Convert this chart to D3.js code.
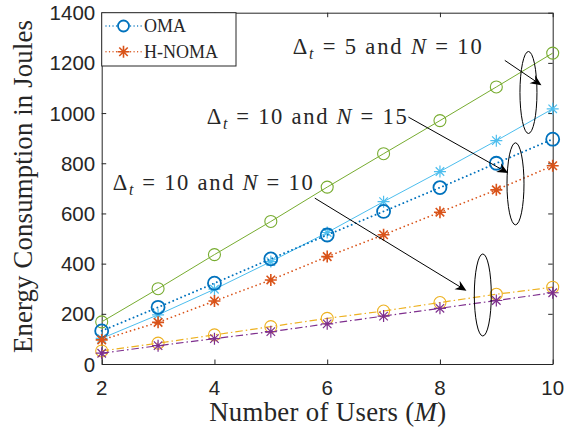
<!DOCTYPE html>
<html>
<head>
<meta charset="utf-8">
<script src="https://cdn.jsdelivr.net/npm/d3@7"></script>
<style>
  body { margin: 0; background: #fff; }
  svg { display: block; }
  .tick-label { font-family: "Liberation Sans", Arial, sans-serif; font-size: 20.5px; fill: #262626; }
</style>
</head>
<body>
<div id="chart"></div>
<script>
// number of users M
const users = [2, 3, 4, 5, 6, 7, 8, 9, 10];

// energy consumption (J)
const omaD5N10 = [168, 300, 436, 568, 705, 838, 970, 1104, 1239];
const hnomaD5N10 = [102, 196, 298, 408, 524, 647, 767, 890, 1017];
const omaD10N15 = [132, 226, 322, 419, 514, 608, 703, 800, 896];
const hnomaD10N15 = [96, 166, 251, 335, 428, 515, 605, 694, 790];
const omaD10N10 = [52, 83, 116, 149, 182, 211, 245, 278, 306];
const hnomaD10N10 = [43, 73, 101, 129, 160, 191, 222, 253, 284];

const xTicks = [2, 4, 6, 8, 10];
const yTicks = [0, 200, 400, 600, 800, 1000, 1200, 1400];

const dotted = { dash: "0.01,4.3", cap: "round" };
const dashDot = { dash: "7.5,3,1.5,3", cap: "butt" };

const series = [
  { name: "omaD5N10", values: omaD5N10, color: "#77AC30", style: null, marker: "circle", width: 1 },
  { name: "hnomaD5N10", values: hnomaD5N10, color: "#4DBEEE", style: null, marker: "star", width: 1 },
  { name: "omaD10N15", values: omaD10N15, color: "#0072BD", style: dotted, marker: "circle", width: 1.9, mw: 1.8, r: 6.5 },
  { name: "hnomaD10N15", values: hnomaD10N15, color: "#D95319", style: dotted, marker: "star", width: 1.7, mw: 1.6 },
  { name: "omaD10N10", values: omaD10N10, color: "#EDB120", style: dashDot, marker: "circle", width: 1.2 },
  { name: "hnomaD10N10", values: hnomaD10N10, color: "#7E2F8E", style: dashDot, marker: "star", width: 1.2 },
];

// annotations: label, text box, arrow (data coords), ellipse (data coords)
const notes = [
  { parts: ["5", "10"], x0: 292.7, base: 54, w: 189,
    from: [9.15, 1210], to: [9.80, 1111], ell: [9.57, 1082] },
  { parts: ["10", "15"], x0: 206.7, base: 124, w: 200,
    from: [7.44, 984], to: [9.21, 761], ell: [9.34, 718] },
  { parts: ["10", "10"], x0: 112.7, base: 190, w: 200,
    from: [5.78, 661], to: [8.47, 292], ell: [8.76, 275] },
];

const width = 573;
const height = 427;
const margin = { top: 12.7, right: 20.3, bottom: 63, left: 101.7 };
const serifFont = '"Liberation Serif", "Times New Roman", Times, serif';

const x = d3.scaleLinear().domain([2, 10]).range([margin.left, width - margin.right]);
const y = d3.scaleLinear().domain([0, 1400]).range([height - margin.bottom, margin.top]);

const svg = d3.select("#chart").append("svg")
  .attr("width", width)
  .attr("height", height);

function serifText(parent) {
  return parent.append("text")
    .style("font-family", serifFont)
    .attr("fill", "#262626");
}

// bring serif text to the measured width: grow the size a little, then letter spacing
function fitWidth(text, target, maxGrow = 1.07) {
  const size = +text.attr("font-size");
  let w = text.node().getComputedTextLength();
  const grow = Math.min(maxGrow, target / w);
  text.attr("font-size", size * grow);
  text.selectAll("tspan.sub").attr("font-size", function () {
    return +d3.select(this).attr("font-size") * grow;
  });
  w = text.node().getComputedTextLength();
  const n = text.text().length;
  text.attr("letter-spacing", (target - w) / Math.max(1, n - 1));
}

const axisColor = "#262626";
const tickLen = 4.5;

// axes box with inward ticks on all sides
const axesG = svg.append("g");
axesG.append("g")
  .attr("transform", `translate(0,${y(0)})`)
  .call(d3.axisBottom(x).tickValues(xTicks).tickSize(-tickLen).tickSizeOuter(0).tickFormat(""));
axesG.append("g")
  .attr("transform", `translate(0,${y(1400)})`)
  .call(d3.axisTop(x).tickValues(xTicks).tickSize(-tickLen).tickSizeOuter(0).tickFormat(""));
axesG.append("g")
  .attr("transform", `translate(${x(2)},0)`)
  .call(d3.axisLeft(y).tickValues(yTicks).tickSize(-tickLen).tickSizeOuter(0).tickFormat(""));
axesG.append("g")
  .attr("transform", `translate(${x(10)},0)`)
  .call(d3.axisRight(y).tickValues(yTicks).tickSize(-tickLen).tickSizeOuter(0).tickFormat(""));
axesG.selectAll("path.domain").attr("stroke", axisColor).attr("stroke-width", 1);
axesG.selectAll(".tick line").attr("stroke", axisColor).attr("stroke-width", 1);

svg.append("g").selectAll("text")
  .data(xTicks)
  .join("text")
  .attr("class", "tick-label")
  .attr("x", (d) => x(d))
  .attr("y", y(0) + 30.5)
  .attr("text-anchor", "middle")
  .text((d) => d);

svg.append("g").selectAll("text")
  .data(yTicks)
  .join("text")
  .attr("class", "tick-label")
  .attr("x", x(2) - 6.5)
  .attr("y", (d) => y(d) + 7.5)
  .attr("text-anchor", "end")
  .text((d) => d);

// axis titles
const xTitle = serifText(svg)
  .attr("font-size", 25)
  .attr("x", 327.8)
  .attr("y", 421)
  .attr("text-anchor", "middle");
xTitle.append("tspan").text("Number of Users (");
xTitle.append("tspan").attr("font-style", "italic").text("M");
xTitle.append("tspan").text(")");
fitWidth(xTitle, 237);

const yTitle = serifText(svg)
  .attr("font-size", 25)
  .attr("text-anchor", "middle")
  .attr("transform", `translate(32,186.5)rotate(-90)`)
  .text("Energy Consumption in Joules");
fitWidth(yTitle, 333);

// series
function drawMarker(g, d, s) {
  const cx = x(d[0]);
  const cy = y(d[1]);
  if (s.marker === "circle") {
    g.append("circle")
      .attr("cx", cx).attr("cy", cy).attr("r", s.r || 6)
      .attr("fill", "none")
      .attr("stroke", s.color)
      .attr("stroke-width", s.mw || 1.1);
  } else {
    const a = 6;
    const b = a * Math.SQRT1_2;
    g.append("path")
      .attr("d", `M${cx - a},${cy}H${cx + a}M${cx},${cy - a}V${cy + a}` +
        `M${cx - b},${cy - b}L${cx + b},${cy + b}M${cx - b},${cy + b}L${cx + b},${cy - b}`)
      .attr("fill", "none")
      .attr("stroke", s.color)
      .attr("stroke-width", s.mw || 1.2);
  }
}

const line = d3.line().x((d) => x(d[0])).y((d) => y(d[1]));

series.forEach((s) => {
  const pts = users.map((u, i) => [u, s.values[i]]);
  const g = svg.append("g").attr("class", s.name);
  g.append("path")
    .datum(pts)
    .attr("d", line)
    .attr("fill", "none")
    .attr("stroke", s.color)
    .attr("stroke-width", s.width)
    .attr("stroke-dasharray", s.style ? s.style.dash : null)
    .attr("stroke-linecap", s.style ? s.style.cap : "butt");
  pts.forEach((d) => drawMarker(g, d, s));
});

// annotations
const noteG = svg.append("g");
notes.forEach((n) => {
  const t = serifText(noteG)
    .attr("font-size", 21.5)
    .attr("x", n.x0)
    .attr("y", n.base);
  t.append("tspan").text("Δ");
  t.append("tspan").attr("class", "sub").attr("font-style", "italic").attr("font-size", 15).attr("dy", 5).text("t");
  t.append("tspan").attr("dy", -5).text(` = ${n.parts[0]} and `);
  t.append("tspan").attr("font-style", "italic").text("N");
  t.append("tspan").text(` = ${n.parts[1]}`);
  fitWidth(t, n.w, 1.05);

  noteG.append("ellipse")
    .attr("cx", x(n.ell[0]))
    .attr("cy", y(n.ell[1]))
    .attr("rx", 8.5)
    .attr("ry", 41)
    .attr("fill", "none")
    .attr("stroke", "#000")
    .attr("stroke-width", 1);

  const x1 = x(n.from[0]), y1 = y(n.from[1]);
  const x2 = x(n.to[0]), y2 = y(n.to[1]);
  const ang = Math.atan2(y2 - y1, x2 - x1);
  const hl = 11, hw = 5, notch = 7.5;
  const ux = Math.cos(ang), uy = Math.sin(ang);
  const px = -uy, py = ux;
  const bx = x2 - ux * hl, by = y2 - uy * hl;
  const nx = x2 - ux * notch, ny = y2 - uy * notch;
  noteG.append("line")
    .attr("x1", x1).attr("y1", y1)
    .attr("x2", nx).attr("y2", ny)
    .attr("stroke", "#000")
    .attr("stroke-width", 1);
  noteG.append("path")
    .attr("d", `M${x2},${y2}L${bx + px * hw},${by + py * hw}L${nx},${ny}L${bx - px * hw},${by - py * hw}Z`)
    .attr("fill", "#000");
});

// legend
const legend = svg.append("g");
legend.append("rect")
  .attr("x", margin.left)
  .attr("y", margin.top)
  .attr("width", 134.3)
  .attr("height", 53.3)
  .attr("fill", "#fff")
  .attr("stroke", axisColor)
  .attr("stroke-width", 1);

const legendItems = [
  { label: "OMA", s: series[2], cy: 26 },
  { label: "H-NOMA", s: series[3], cy: 51.7 },
];
legendItems.forEach((it) => {
  legend.append("line")
    .attr("x1", 106).attr("x2", 141.5)
    .attr("y1", it.cy).attr("y2", it.cy)
    .attr("stroke", it.s.color)
    .attr("stroke-width", 1.4)
    .attr("stroke-dasharray", "0.01,3.5")
    .attr("stroke-linecap", "round");
  const cx = 123.5;
  if (it.s.marker === "circle") {
    legend.append("circle")
      .attr("cx", cx).attr("cy", it.cy).attr("r", 5.5)
      .attr("fill", "#fff").attr("stroke", it.s.color).attr("stroke-width", 1.8);
  } else {
    const a = 6, b = a * Math.SQRT1_2;
    legend.append("path")
      .attr("d", `M${cx - a},${it.cy}H${cx + a}M${cx},${it.cy - a}V${it.cy + a}` +
        `M${cx - b},${it.cy - b}L${cx + b},${it.cy + b}M${cx - b},${it.cy + b}L${cx + b},${it.cy - b}`)
      .attr("fill", "none").attr("stroke", it.s.color).attr("stroke-width", 1.6);
  }
  serifText(legend)
    .attr("font-size", 18)
    .attr("x", 144)
    .attr("y", it.cy + 6.2)
    .text(it.label);
});
</script>
</body>
</html>
